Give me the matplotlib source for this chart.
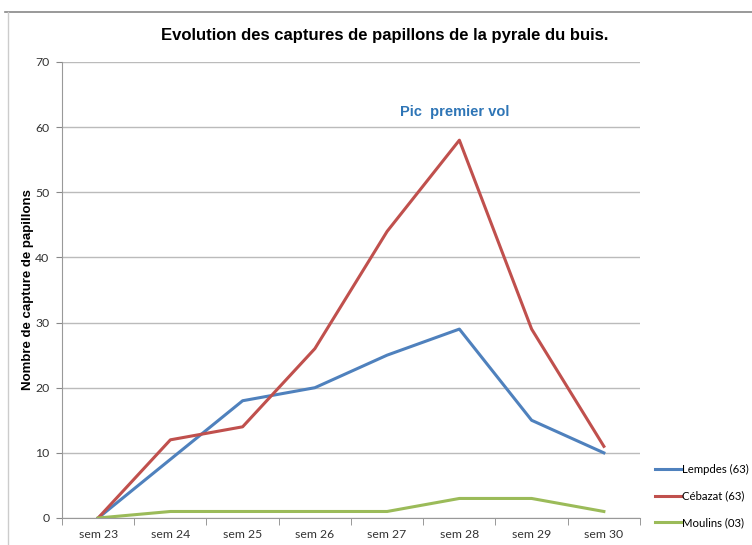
import numpy as np
import matplotlib.pyplot as plt
from matplotlib.lines import Line2D

weeks = ['sem 23', 'sem 24', 'sem 25', 'sem 26', 'sem 27', 'sem 28', 'sem 29', 'sem 30']
lempdes = [0, 9, 18, 20, 25, 29, 15, 10]
cebazat = [0, 12, 14, 26, 44, 58, 29, 11]
moulins = [0, 1, 1, 1, 1, 3, 3, 1]

W, H = 752, 545
fig = plt.figure(figsize=(W/100, H/100), dpi=100)
ax = fig.add_axes([62/W, 1-518/H, (640-62)/W, (518-62)/H])

x = np.arange(len(weeks))
ax.plot(x, lempdes, color='#4F81BD', lw=2.2, label='Lempdes (63)')
ax.plot(x, cebazat, color='#C0504D', lw=2.2, label='Cébazat (63)')
ax.plot(x, moulins, color='#9BBB59', lw=2.2, label='Moulins (03)')

ax.set_xlim(-0.5, len(weeks)-0.5)
ax.set_ylim(0, 70)
ax.set_yticks(np.arange(0, 71, 10))
ax.set_xticks(x)
ax.set_xticklabels(weeks, family='Lato', fontsize=8.8, color='#333333')
ax.set_xticks(np.arange(-0.5, len(weeks), 1), minor=True)
ax.tick_params(axis='x', which='major', length=0, pad=8)
ax.tick_params(axis='x', which='minor', length=5, color='#888888', direction='out')
ax.tick_params(axis='y', length=4, color='#888888', labelsize=8.8, labelcolor='#333333', pad=5)
for lab in ax.get_yticklabels():
    lab.set_family('Lato')
ax.grid(axis='y', color='#bbbbbb', lw=1)
ax.set_axisbelow(True)
for s in ['top', 'right']:
    ax.spines[s].set_visible(False)
ax.spines['left'].set_color('#999999')
ax.spines['bottom'].set_color('#999999')

fig.text(28/W, 1-290/H, 'Nombre de capture de papillons', rotation=90, ha='center', va='center',
         family='Liberation Sans', fontweight='bold', fontsize=9.5)
fig.text(385/W, 1-35/H, 'Evolution des captures de papillons de la pyrale du buis.',
         ha='center', va='center', family='Liberation Sans', fontweight='bold', fontsize=12)
fig.text(455/W, 1-112/H, 'Pic  premier vol', ha='center', va='center',
         family='Liberation Sans', fontweight='bold', fontsize=10.5, color='#2E75B6')

fig.legend(loc='center left', bbox_to_anchor=(655/W, 1-496/H), frameon=False,
           prop={'family': 'Lato', 'size': 8.2}, handlelength=2.3, handletextpad=0.1,
           labelspacing=1.35, borderaxespad=0, borderpad=0)

# frame around the chart
fig.add_artist(Line2D([5/W, 1], [1-12/H, 1-12/H], color='#888888', lw=1.2))
fig.add_artist(Line2D([8/W, 8/W], [0, 1-12/H], color='#cccccc', lw=1))

fig.savefig('out.png', dpi=100)
